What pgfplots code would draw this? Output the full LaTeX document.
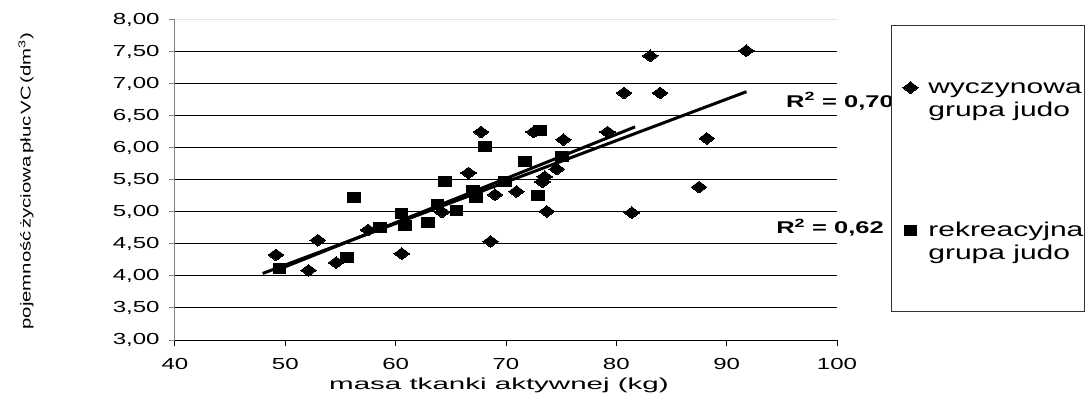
\documentclass[border=0pt]{standalone}
\usepackage{graphicx}
\usepackage{pgfplots}
\pgfplotsset{compat=1.18}
\usepackage{fontspec}
\setmainfont{Liberation Sans}[FakeStretch=1.5]
\newfontfamily\plainsans{Liberation Sans}

\pgfplotstableread{
x y
49.15 4.33
52.10 4.09
52.94 4.56
54.60 4.21
57.50 4.72
60.55 4.35
64.20 5.00
66.60 5.61
67.74 6.25
68.60 4.54
69.00 5.27
70.95 5.32
72.50 6.25
73.30 5.47
73.50 5.55
73.70 5.01
74.60 5.67
75.20 6.13
79.20 6.25
80.70 6.86
81.40 4.99
83.07 7.44
83.97 6.86
87.50 5.39
88.20 6.15
91.77 7.52
}\wyczynowa

\pgfplotstableread{
x y
49.45 4.12
55.60 4.29
56.23 5.23
58.60 4.75
60.55 4.98
60.85 4.79
62.95 4.83
63.80 5.11
64.48 5.47
65.50 5.02
67.00 5.33
67.30 5.22
68.10 6.02
69.90 5.47
71.70 5.79
72.90 5.25
73.10 6.27
75.06 5.86
}\rekreacyjna

\begin{document}
\begin{tikzpicture}[x=1pt,y=1pt]
\path[use as bounding box] (-175,-72) rectangle (911,340);
\begin{axis}[
  at={(0,0)}, anchor=south west,
  scale only axis, width=662pt, height=320pt,
  xmin=40, xmax=100, ymin=3, ymax=8,
  xtick={40,50,...,100},
  ytick={3,3.5,...,7.5},
  extra y ticks={8},
  extra y tick style={grid style={gray!20, line width=1pt}},
  ymajorgrids,
  grid style={black, line width=1pt},
  axis x line*=bottom, axis y line*=left,
  axis line style={-},
  x axis line style={black, line width=1pt},
  y axis line style={gray, line width=1pt},
  tick align=outside,
  major tick length=6pt,
  tick style={line width=1pt},
  xtick style={black},
  ytick style={gray},
  /pgf/number format/assume math mode=true,
  tick label style={font=\fontsize{16}{16}\selectfont},
  yticklabel style={/pgf/number format/.cd, use comma, fixed, fixed zerofill, precision=2, /tikz/.cd, xshift=-6pt},
  xticklabel style={/pgf/number format/.cd, fixed, precision=0, /tikz/.cd, yshift=-9pt},
  xlabel={\scalebox{1.23}[1]{masa tkanki aktywnej (kg)}},
  xlabel style={at={(axis description cs:0.4894,-0.1406)}, anchor=center, font=\fontsize{16}{16}\selectfont},
  clip=false,
  legend style={
    at={(rel axis cs:1.0816,0.984)}, anchor=north west,
    draw=black!80, line width=1pt,
    inner xsep=1pt, inner ysep=51pt,
    row sep=102pt, column sep=10pt,
    font=\fontsize{20}{23}\selectfont,
    nodes={inner sep=0pt, align=left, anchor=north west},
  },
  legend image code/.code={\path[draw=none] (0pt,-12pt) rectangle (25pt,-10pt); \draw[#1] plot coordinates {(18pt,-11pt)};},
]
\addplot[only marks, mark=diamond*, mark size=7.8pt, mark options={rotate=90, fill=black, draw=black, line width=0pt}] table {\wyczynowa};
\addlegendentry{\strut wyczynowa\\grupa judo\strut}
\addplot[only marks, mark=square*, mark size=5pt, mark options={xscale=1.25, fill=black, draw=black, line width=0pt}] table {\rekreacyjna};
\addlegendentry{\strut rekreacyjna\\grupa judo\rule[-18pt]{0pt}{1pt}}
\addplot[black, line width=3pt, forget plot] coordinates {(47.95,4.04) (91.80,6.88)};
\addplot[black, line width=3pt, forget plot] coordinates {(49.20,4.09) (81.70,6.33)};
\node[font=\bfseries\fontsize{17}{17}\selectfont] at (axis cs:100.27,6.73) {R\textsuperscript{2} = 0,70};
\node[font=\bfseries\fontsize{17}{17}\selectfont] at (axis cs:99.37,4.75) {R\textsuperscript{2} = 0,62};
\end{axis}
\node[rotate=90, inner sep=0pt] at (-149,159) {\resizebox*{297pt}{15pt}{\plainsans\spaceskip=0.12em pojemność życiowa płuc VC (dm\textsuperscript{3})}};
\end{tikzpicture}
\end{document}
